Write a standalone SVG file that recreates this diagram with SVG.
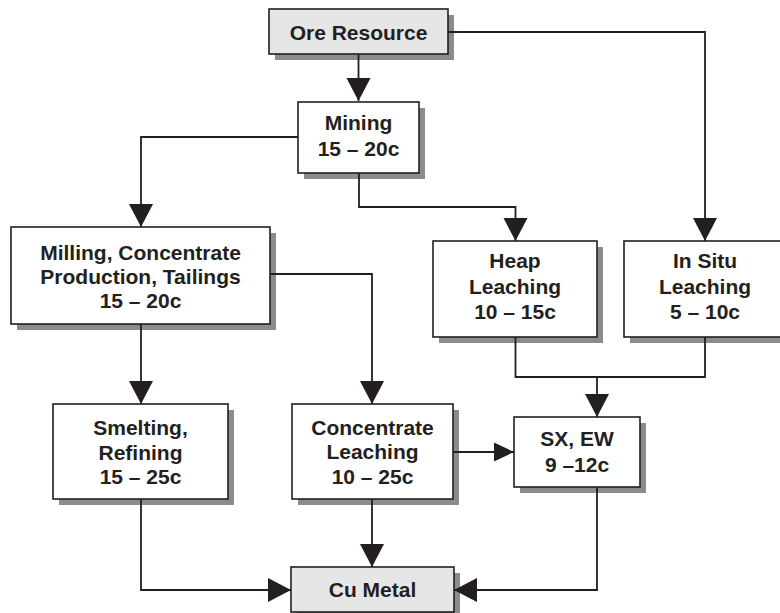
<svg xmlns="http://www.w3.org/2000/svg" width="780" height="613" viewBox="0 0 780 613">
<style>
.sh{fill:#8c8c8c}
.bx{fill:#ffffff;stroke:#231f20;stroke-width:1.6}
.gr{fill:#e6e6e6;stroke:#231f20;stroke-width:1.6}
text{font-family:"Liberation Sans",Arial,Helvetica,sans-serif;font-weight:bold;font-size:21px;fill:#231f20;text-anchor:middle}
.ln{fill:none;stroke:#231f20;stroke-width:1.8}
</style>
<defs>
<marker id="ah" markerUnits="userSpaceOnUse" markerWidth="24" markerHeight="25" viewBox="0 0 23 25" refX="23" refY="12.5" orient="auto">
<path d="M0,0.5 L23,12.5 L0,24.5 Z" fill="#231f20"/>
</marker>
<marker id="ahs" markerUnits="userSpaceOnUse" markerWidth="20" markerHeight="20" viewBox="0 0 18 18" refX="18" refY="9" orient="auto">
<path d="M0,0.5 L18,9 L0,17.5 Z" fill="#231f20"/>
</marker>
</defs>
<rect width="780" height="613" fill="#ffffff"/>

<g id="ore">
<rect class="sh" x="275" y="15" width="179" height="45"/>
<rect class="gr" x="269" y="9" width="179" height="45"/>
<text x="358.5" y="40">Ore Resource</text>
</g>
<g id="mining">
<rect class="sh" x="304" y="108" width="121" height="71"/>
<rect class="bx" x="298" y="102" width="121" height="71"/>
<text x="358.5" y="130">Mining</text>
<text x="358.5" y="155.5">15 – 20c</text>
</g>
<g id="milling">
<rect class="sh" x="17" y="233" width="259" height="97"/>
<rect class="bx" x="11" y="227" width="259" height="97"/>
<text x="140.5" y="260">Milling, Concentrate</text>
<text x="140.5" y="284">Production, Tailings</text>
<text x="140.5" y="308">15 – 20c</text>
</g>
<g id="heap">
<rect class="sh" x="439" y="247" width="164" height="96"/>
<rect class="bx" x="433" y="241" width="164" height="96"/>
<text x="515" y="268">Heap</text>
<text x="515" y="293.5">Leaching</text>
<text x="515" y="318.5">10 – 15c</text>
</g>
<g id="insitu">
<rect class="sh" x="630" y="247" width="164" height="96"/>
<rect class="bx" x="624" y="241" width="164" height="96"/>
<text x="705" y="268">In Situ</text>
<text x="705" y="293.5">Leaching</text>
<text x="705" y="318.5">5 – 10c</text>
</g>
<g id="smelting">
<rect class="sh" x="59" y="410" width="175" height="95"/>
<rect class="bx" x="53" y="404" width="175" height="95"/>
<text x="140.5" y="435">Smelting,</text>
<text x="140.5" y="459.5">Refining</text>
<text x="140.5" y="484">15 – 25c</text>
</g>
<g id="concleach">
<rect class="sh" x="298" y="410" width="161" height="95"/>
<rect class="bx" x="292" y="404" width="161" height="95"/>
<text x="372.5" y="434.5">Concentrate</text>
<text x="372.5" y="459">Leaching</text>
<text x="372.5" y="483.5">10 – 25c</text>
</g>
<g id="sxew">
<rect class="sh" x="520" y="423" width="126" height="70"/>
<rect class="bx" x="514" y="417" width="126" height="70"/>
<text x="577" y="446">SX, EW</text>
<text x="577" y="472">9 –12c</text>
</g>
<g id="cumetal">
<rect class="sh" x="297" y="573" width="163" height="45"/>
<rect class="gr" x="291" y="567" width="163" height="45"/>
<text x="372.5" y="597">Cu Metal</text>
</g>

<g id="connectors">
<path class="ln" d="M358.5,54 V101" marker-end="url(#ah)"/>
<path class="ln" d="M448,32 H705 V241" marker-end="url(#ah)"/>
<path class="ln" d="M298,137 H141 V227" marker-end="url(#ah)"/>
<path class="ln" d="M359,173 V207 H515.5 V241" marker-end="url(#ah)"/>
<path class="ln" d="M141,324 V404" marker-end="url(#ah)"/>
<path class="ln" d="M270,274 H372 V404" marker-end="url(#ah)"/>
<path class="ln" d="M515.5,337 V377 H705 V337"/>
<path class="ln" d="M597,377 V417" marker-end="url(#ah)"/>
<path class="ln" d="M453,452 H514" marker-end="url(#ahs)"/>
<path class="ln" d="M141,499 V590 H291" marker-end="url(#ah)"/>
<path class="ln" d="M372,499 V567" marker-end="url(#ah)"/>
<path class="ln" d="M597,487 V590 H454" marker-end="url(#ah)"/>
</g>
</svg>
